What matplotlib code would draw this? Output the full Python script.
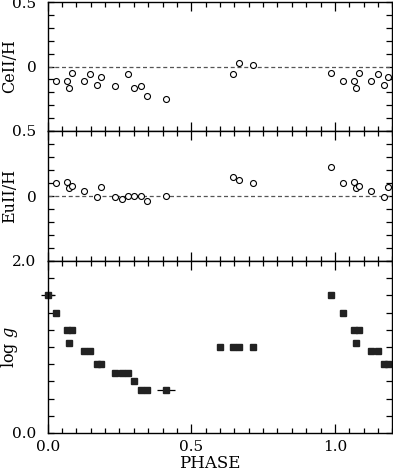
import numpy as np
import matplotlib
matplotlib.use("Agg")
import matplotlib.pyplot as plt
from matplotlib.ticker import MultipleLocator, FixedLocator

# CeII/H abundances vs phase
ce_phase = [0.030, 0.068, 0.075, 0.083, 0.127, 0.149, 0.172, 0.186, 0.235,
            0.280, 0.302, 0.325, 0.346, 0.412, 0.646, 0.667, 0.715, 0.987]
ce_val = [-0.11, -0.11, -0.17, -0.05, -0.11, -0.06, -0.14, -0.08, -0.15,
          -0.06, -0.17, -0.15, -0.23, -0.25, -0.06, 0.03, 0.01, -0.05]

# EuII/H abundances vs phase
eu_phase = [0.030, 0.068, 0.075, 0.083, 0.127, 0.172, 0.186, 0.235, 0.258,
            0.280, 0.302, 0.325, 0.346, 0.412, 0.646, 0.667, 0.715, 0.987]
eu_val = [0.10, 0.11, 0.06, 0.08, 0.04, -0.01, 0.07, -0.01, -0.025,
          0.0, 0.0, 0.0, -0.04, 0.0, 0.15, 0.12, 0.10, 0.22]

# log g vs phase
g_phase = [0.0, 0.030, 0.068, 0.075, 0.083, 0.127, 0.149, 0.172, 0.186, 0.235,
           0.258, 0.280, 0.302, 0.325, 0.346, 0.412, 0.601, 0.646, 0.667,
           0.715, 0.987]
g_val = [1.6, 1.4, 1.2, 1.05, 1.2, 0.95, 0.95, 0.8, 0.8, 0.7,
         0.7, 0.7, 0.6, 0.5, 0.5, 0.5, 1.0, 1.0, 1.0,
         1.0, 1.6]
g_xerr = [0.025, 0, 0, 0, 0, 0, 0, 0, 0, 0,
          0, 0, 0, 0, 0, 0.03, 0, 0, 0,
          0, 0]


def wrap(phase, val, err=None):
    # repeat the start of the cycle after phase 1
    x = list(phase)
    y = list(val)
    e = list(err) if err is not None else [0] * len(phase)
    for p, v, ee in zip(phase, val, e):
        if 0 < p and p + 1 <= 1.2:
            x.append(p + 1)
            y.append(v)
            e.append(0)
    return np.array(x), np.array(y), np.array(e)


plt.rcParams['font.family'] = ['DejaVu Serif']
plt.rcParams['mathtext.fontset'] = 'dejavuserif'

fig = plt.figure(figsize=(3.93, 4.71), dpi=100)
W, H = 393.0, 471.0
left = 47.7 / W
width = (392.3 - 47.7) / W
ax1 = fig.add_axes([left, 1 - 131 / H, width, 129 / H])
ax2 = fig.add_axes([left, 1 - 261 / H, width, 130 / H])
ax3 = fig.add_axes([left, 1 - 433 / H, width, 172 / H])

for ax in (ax1, ax2, ax3):
    ax.set_xlim(0, 1.2)
    ax.xaxis.set_major_locator(FixedLocator([0.0, 0.5, 1.0]))
    ax.xaxis.set_minor_locator(MultipleLocator(0.05))
    ax.tick_params(which='both', direction='in', top=True, right=True,
                   labelsize=11, width=0.9, colors='black')
    ax.tick_params(axis='x', which='major', length=6.5, pad=5)
    ax.tick_params(axis='x', which='minor', length=3.6)
    ax.tick_params(axis='y', which='both', length=4.5, pad=8)
    for s in ax.spines.values():
        s.set_linewidth(1.0)

for ax, ph, vals, lab in ((ax1, ce_phase, ce_val, 'CeII/H'),
                          (ax2, eu_phase, eu_val, 'EuII/H')):
    x, y, _ = wrap(ph, vals)
    ax.axhline(0, color='#555555', lw=0.9, dashes=(3.2, 2.2))
    ax.plot(x, y, 'o', ms=4.3, mfc='white', mec='black', mew=0.8)
    ax.set_ylim(-0.5, 0.5)
    ax.yaxis.set_major_locator(FixedLocator([0, 0.5]))
    ax.set_yticklabels(['0', '0.5'])
    ax.yaxis.set_minor_locator(MultipleLocator(0.1))
    ax.set_xticklabels([])
    ax.set_ylabel(lab, fontsize=11.5)
    ax.yaxis.set_label_coords(-0.085, 0.5)

x, y, e = wrap(g_phase, g_val, g_xerr)
ax3.errorbar(x, y, xerr=e, fmt='s', ms=4.3, mfc='#222222', mec='#222222',
             ecolor='black', elinewidth=0.9, capsize=0, clip_on=False)
ax3.set_ylim(0, 2.0)
ax3.yaxis.set_major_locator(FixedLocator([0.0, 2.0]))
ax3.set_yticklabels(['0.0', '2.0'])
ax3.yaxis.set_minor_locator(MultipleLocator(0.2))
ax3.set_xticklabels(['0.0', '0.5', '1.0'])
ax3.set_ylabel('log $g$', fontsize=11.5)
ax3.yaxis.set_label_coords(-0.08, 0.5)
ax3.set_xlabel('PHASE', fontsize=12)
ax3.xaxis.set_label_coords(0.471, -0.125)

fig.savefig('out.png', dpi=100)
